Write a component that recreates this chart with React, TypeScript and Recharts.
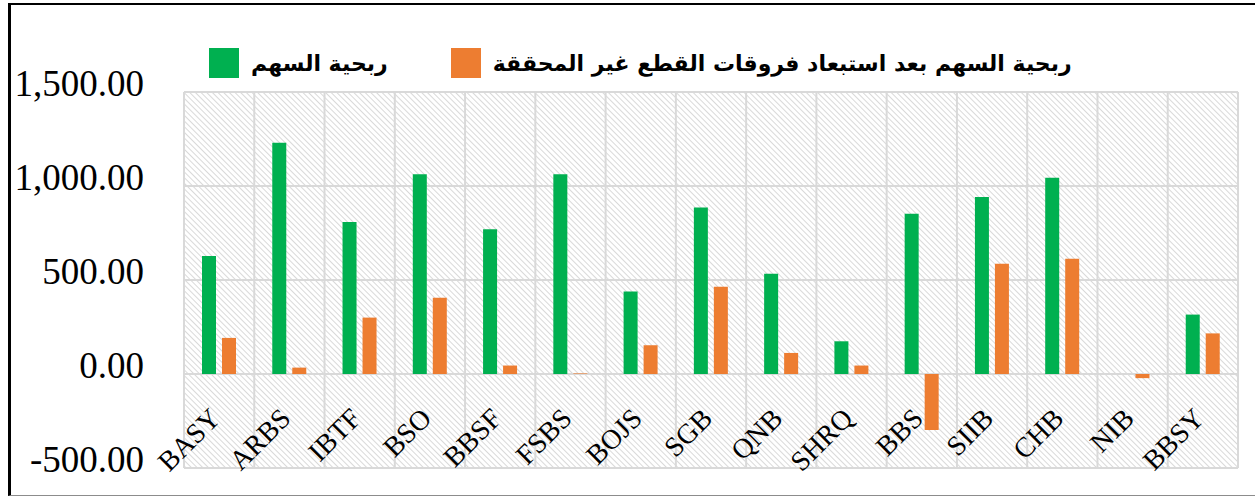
import React from "react";
import { BarChart, Bar, XAxis, YAxis, CartesianGrid } from "recharts";

const categories = [
  "BASY", "ARBS", "IBTF", "BSO", "BBSF", "FSBS", "BOJS", "SGB",
  "QNB", "SHRQ", "BBS", "SIIB", "CHB", "NIB", "BBSY",
];
const eps = [628, 1230, 809, 1062, 770, 1062, 439, 885, 533, 174, 853, 942, 1044, 0, 316];
const epsExFx = [192, 34, 300, 406, 45, 3, 153, 464, 112, 45, -298, 586, 613, -22, 216];
const yTicks = [-500, 0, 500, 1000, 1500];

const seriesNames = ["ربحية السهم", "ربحية السهم بعد استبعاد فروقات القطع غير المحققة"];
const seriesColors = ["#00b050", "#ed7d31"];

const chartData = categories.map((name, i) => ({
  name,
  eps: eps[i],
  epsExFx: epsExFx[i],
}));

const fmt = (v: number) =>
  v.toLocaleString("en-US", { minimumFractionDigits: 2, maximumFractionDigits: 2 });

const YTick = (props: any) => {
  const { x, y, payload } = props;
  return (
    <text
      x={x}
      y={y}
      dy={4}
      textAnchor="end"
      fontFamily="'Liberation Serif', 'Times New Roman', serif"
      fontSize={37}
      fill="#000"
    >
      {fmt(payload.value)}
    </text>
  );
};

const XTick = (props: any) => {
  const { x, y, payload } = props;
  const ax = x + 3;
  const ay = y - 56;
  return (
    <text
      x={ax}
      y={ay}
      textAnchor="end"
      transform={`rotate(-45 ${ax} ${ay})`}
      fontFamily="'Liberation Serif', 'Times New Roman', serif"
      fontSize={28}
      fill="#000"
    >
      {payload.value}
    </text>
  );
};

export default function App() {
  return (
    <div
      style={{
        position: "absolute",
        left: 8,
        top: 3,
        width: 1244,
        height: 490,
        borderLeft: "3px solid #000",
        borderTop: "2px solid #000",
        borderBottom: "1px solid #8c8c8c",
        background: "#fff",
      }}
    >
      <svg width={0} height={0} style={{ position: "absolute" }}>
        <defs>
          <pattern
            id="hatch"
            width={4}
            height={4}
            patternUnits="userSpaceOnUse"
            patternTransform="rotate(-45)"
          >
            <rect width={4} height={4} fill="#fff" />
            <line x1={0} y1={0} x2={0} y2={4} stroke="#d0d0d0" strokeWidth={1.6} />
          </pattern>
        </defs>
      </svg>

      <div
        style={{
          position: "absolute",
          left: 198,
          top: 43,
          display: "flex",
          alignItems: "center",
          fontFamily: "'DejaVu Sans', sans-serif",
          fontWeight: "bold",
          fontSize: 22,
          whiteSpace: "nowrap",
        }}
      >
        {seriesNames.map((n, i) => (
          <div
            key={n}
            style={{ display: "flex", alignItems: "center", marginRight: i === 0 ? 63 : 0 }}
          >
            <div style={{ width: 30, height: 30, background: seriesColors[i], marginRight: 12 }} />
            <span dir="rtl">{n}</span>
          </div>
        ))}
      </div>

      <BarChart
        width={1244}
        height={490}
        data={chartData}
        margin={{ top: 87, right: 17, left: 0, bottom: 0 }}
        barSize={14}
        barGap={6}
      >
        <CartesianGrid
          stroke="#d9d9d9"
          strokeWidth={2}
          fill="url(#hatch)"
          fillOpacity={1}
          verticalCoordinatesGenerator={({ offset }: any) =>
            Array.from({ length: categories.length + 1 }, (_, i) =>
              offset.left + (i * offset.width) / categories.length
            )
          }
        />
        <XAxis
          dataKey="name"
          height={27}
          axisLine={false}
          tickLine={false}
          interval={0}
          tick={<XTick />}
        />
        <YAxis
          width={173}
          domain={[-500, 1500]}
          ticks={yTicks}
          axisLine={false}
          tickLine={false}
          tickMargin={34}
          tick={<YTick />}
        />
        <Bar dataKey="eps" name={seriesNames[0]} fill={seriesColors[0]} isAnimationActive={false} />
        <Bar dataKey="epsExFx" name={seriesNames[1]} fill={seriesColors[1]} isAnimationActive={false} />
      </BarChart>
    </div>
  );
}
